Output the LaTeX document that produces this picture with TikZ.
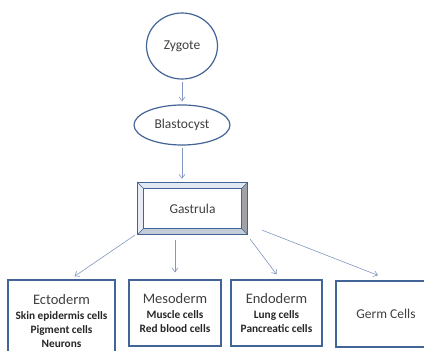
\documentclass[tikz,border=0pt]{standalone}
\usepackage{fontspec}
\setmainfont{Carlito}
\usetikzlibrary{shapes.geometric,arrows.meta,calc}
\definecolor{edgeblue}{RGB}{66,100,150}
\definecolor{arrowblue}{RGB}{130,152,192}
\definecolor{txtgray}{RGB}{64,64,64}
\definecolor{bevlight}{RGB}{226,233,243}
\definecolor{bevmid}{RGB}{196,204,216}
\definecolor{bevdark}{RGB}{160,162,168}

\begin{document}
\begin{tikzpicture}[x=1pt,y=1pt,
  stage/.style={ellipse,draw=edgeblue,line width=1.2pt,inner sep=0pt,text=txtgray,font=\fontsize{13.5}{15}\selectfont},
  layer/.style={rectangle,draw=edgeblue,line width=1.3pt,inner sep=0pt,align=center,text=black!85,font=\fontsize{11.3}{14}\selectfont\bfseries},
  flow/.style={draw=arrowblue,line width=0.6pt,-{Straight Barb[length=4pt,width=6pt]}}]
\useasboundingbox (0,0) rectangle (424,351);
\clip (0,0) rectangle (424,351);
\fill[white] (0,0) rectangle (424,351);

\node[stage,minimum width=71,minimum height=66] (zyg) at (182,305) {Zygote};
\node[stage,minimum width=96,minimum height=40] (bla) at (182,226) {Blastocyst};
\node[inner sep=0pt,minimum width=109,minimum height=51,text=txtgray,
  font=\fontsize{13.5}{15}\selectfont] (gas) at (192.5,142.5) {Gastrula};

% bevelled frame of the gastrula box
\fill[bevlight] (gas.north west) -- (gas.north east) -- ($(gas.north east)+(-6,-6)$) -- ($(gas.north west)+(6,-6)$) -- cycle;
\fill[bevlight!80!white] (gas.north west) -- ($(gas.north west)+(6,-6)$) -- ($(gas.south west)+(6,6)$) -- (gas.south west) -- cycle;
\fill[bevmid] (gas.south west) -- ($(gas.south west)+(6,6)$) -- ($(gas.south east)+(-6,6)$) -- (gas.south east) -- cycle;
\fill[bevdark] (gas.south east) -- ($(gas.south east)+(-6,6)$) -- ($(gas.north east)+(-6,-6)$) -- (gas.north east) -- cycle;
\draw[edgeblue,line width=1.2pt] (gas.north west) rectangle (gas.south east);
\draw[edgeblue,line width=0.9pt] ($(gas.north west)+(6,-6)$) rectangle ($(gas.south east)+(-6,6)$);
\draw[edgeblue,line width=0.5pt] (gas.north west) -- ++(6,-6) (gas.north east) -- ++(-6,-6)
  (gas.south west) -- ++(6,6) (gas.south east) -- ++(-6,6);

\node[layer,minimum width=107,minimum height=82] (ecto) at (61.5,30)
  {{\mdseries\color{txtgray}\fontsize{14.5}{16}\selectfont Ectoderm}\\[1pt]
   Skin epidermis cells\\ Pigment cells\\ Neurons};
\node[layer,minimum width=92,minimum height=66] (meso) at (175,38)
  {{\mdseries\color{txtgray}\fontsize{14.5}{16}\selectfont Mesoderm}\\[1pt]
   Muscle cells\\ Red blood cells};
\node[layer,minimum width=91,minimum height=66] (endo) at (276.5,38)
  {{\mdseries\color{txtgray}\fontsize{14.5}{16}\selectfont Endoderm}\\[1pt]
   Lung cells\\ Pancreatic cells};
\node[layer,minimum width=100,minimum height=66,text=txtgray,
  font=\fontsize{13.5}{15}\selectfont] (germ) at (386,37) {\raisebox{-6pt}{Germ Cells}};

\draw[flow] ([yshift=-2pt]zyg.south) -- ([yshift=3pt]bla.north);
\draw[flow] ([yshift=-2pt]bla.south) -- ([yshift=4pt]gas.north -| bla.south);
\draw[flow] ($(gas.south west)+(-3,-1)$) -- ($(ecto.north)+(13,3)$);
\draw[flow] ($(gas.south -| meso.north)+(0,-6)$) -- ($(meso.north)+(0,7)$);
\draw[flow] ($(gas.south east)+(3,-5)$) -- ($(endo.north)+(0,5)$);
\draw[flow] ($(gas.south east)+(15,4)$) -- ($(germ.north)+(-8,5)$);
\end{tikzpicture}
\end{document}
